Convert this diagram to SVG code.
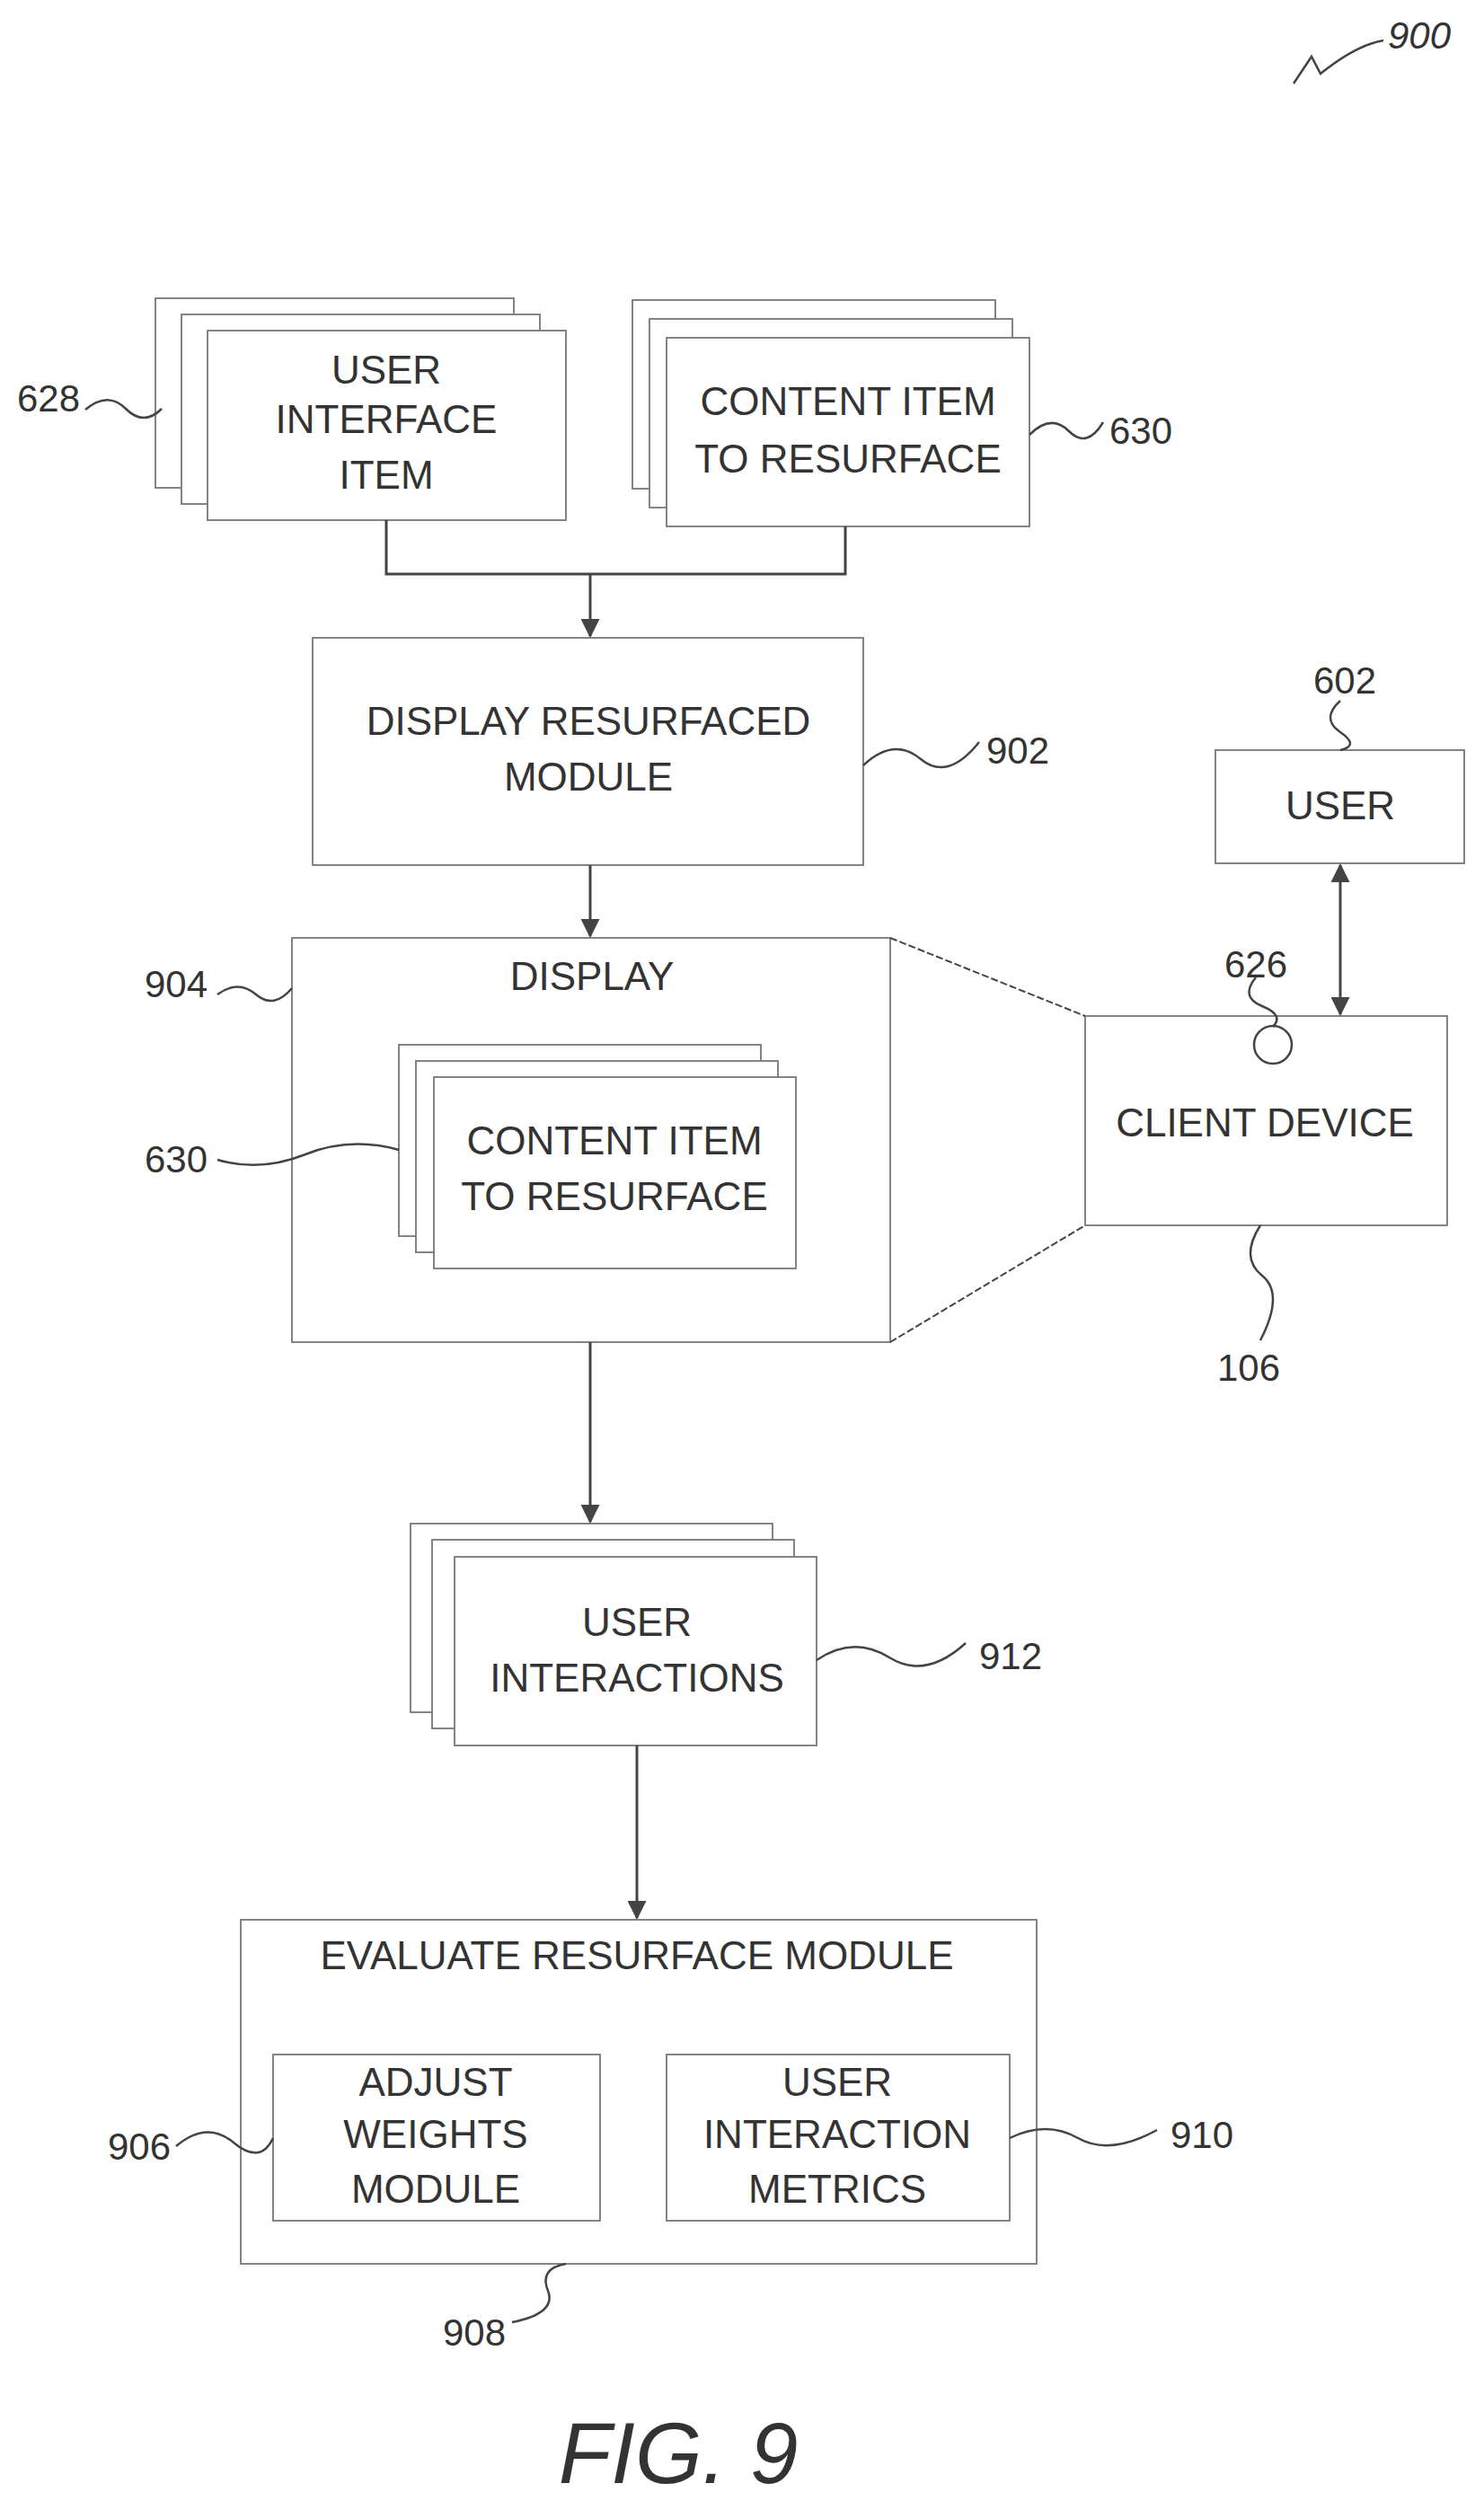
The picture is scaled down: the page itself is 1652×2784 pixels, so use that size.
<svg xmlns="http://www.w3.org/2000/svg" width="1652" height="2784" viewBox="0 0 1652 2784">
<defs>
<style>
.b{fill:#fff;stroke:#777;stroke-width:1.8}
.c{fill:none;stroke:#444;stroke-width:3}
.s{fill:none;stroke:#444;stroke-width:2.5}
.t{font-family:"Liberation Sans",Arial,sans-serif;font-size:44px;fill:#333;text-anchor:middle}
.l{font-family:"Liberation Sans",Arial,sans-serif;font-size:42px;fill:#333;text-anchor:middle}
.f{font-family:"Liberation Sans",Arial,sans-serif;font-size:96px;font-style:italic;fill:#333;text-anchor:middle}
</style>
<marker id="a" viewBox="0 0 10 10" refX="9" refY="5" markerWidth="7" markerHeight="7" orient="auto-start-reverse"><path d="M0,0 L10,5 L0,10 z" fill="#444"/></marker>
</defs>
<rect width="1652" height="2784" fill="#fff"/>
<g id="n628">
<rect class="b" x="173" y="332" width="399" height="211"/>
<rect class="b" x="202" y="350" width="399" height="211"/>
<rect class="b" x="231" y="368" width="399" height="211"/>
<text class="t" x="430" y="427">USER</text><text class="t" x="430" y="482">INTERFACE</text><text class="t" x="430" y="544">ITEM</text>
</g>
<g id="n630a">
<rect class="b" x="704" y="334" width="404" height="210"/>
<rect class="b" x="723" y="355" width="404" height="210"/>
<rect class="b" x="742" y="376" width="404" height="210"/>
<text class="t" x="944" y="462">CONTENT ITEM</text><text class="t" x="944" y="526">TO RESURFACE</text>
</g>
<g id="n902">
<rect class="b" x="348" y="710" width="613" height="253"/>
<text class="t" x="655" y="818">DISPLAY RESURFACED</text><text class="t" x="655" y="880">MODULE</text>
</g>
<g id="n904">
<rect class="b" x="325" y="1044" width="666" height="450"/>
<text class="t" x="659" y="1102">DISPLAY</text>
<rect class="b" x="444" y="1163" width="403" height="213"/>
<rect class="b" x="463" y="1181" width="403" height="213"/>
<rect class="b" x="483" y="1199" width="403" height="213"/>
<text class="t" x="684" y="1285">CONTENT ITEM</text><text class="t" x="684" y="1347">TO RESURFACE</text>
</g>
<g id="n106">
<rect class="b" x="1208" y="1131" width="403" height="233"/>
<text class="t" x="1408" y="1265">CLIENT DEVICE</text>
<circle cx="1417" cy="1163" r="21" fill="#fff" stroke="#444" stroke-width="2.5"/>
</g>
<g id="n602">
<rect class="b" x="1353" y="835" width="277" height="126"/>
<text class="t" x="1492" y="912">USER</text>
</g>
<g id="n912">
<rect class="b" x="457" y="1696" width="403" height="210"/>
<rect class="b" x="481" y="1714" width="403" height="210"/>
<rect class="b" x="506" y="1733" width="403" height="210"/>
<text class="t" x="709" y="1821">USER</text><text class="t" x="709" y="1883">INTERACTIONS</text>
</g>
<g id="n908">
<rect class="b" x="268" y="2137" width="886" height="383"/>
<text class="t" x="709" y="2192">EVALUATE RESURFACE MODULE</text>
</g>
<g id="n906">
<rect class="b" x="304" y="2287" width="364" height="185"/>
<text class="t" x="485" y="2333">ADJUST</text><text class="t" x="485" y="2391">WEIGHTS</text><text class="t" x="485" y="2452">MODULE</text>
</g>
<g id="n910">
<rect class="b" x="742" y="2287" width="382" height="185"/>
<text class="t" x="932" y="2333">USER</text><text class="t" x="932" y="2391">INTERACTION</text><text class="t" x="932" y="2452">METRICS</text>
</g>
<g id="connectors">
<path class="c" d="M430,579 V639 H941 V586"/>
<path class="c" d="M657,639 V708" marker-end="url(#a)"/>
<path class="c" d="M657,963 V1042" marker-end="url(#a)"/>
<path class="c" d="M657,1494 V1694" marker-end="url(#a)"/>
<path class="c" d="M709,1943 V2135" marker-end="url(#a)"/>
<path class="c" d="M1492,963 V1129" marker-start="url(#a)" marker-end="url(#a)"/>
<path d="M991,1044 L1208,1131 M991,1494 L1208,1364" stroke="#444" stroke-width="2" stroke-dasharray="8,3" fill="none"/>
<path class="s" d="M1440,93 L1460,63 L1470,82 Q1510,50 1540,45" />
<path class="s" d="M95,456 Q120,435 140,455 T180,455"/>
<path class="s" d="M1146,484 Q1170,460 1190,480 T1228,470"/>
<path class="s" d="M961,852 Q995,820 1025,845 T1090,826"/>
<path class="s" d="M1492,780 Q1470,800 1492,815 T1492,835"/>
<path class="s" d="M1398,1088 Q1380,1110 1405,1120 T1417,1143"/>
<path class="s" d="M242,1107 Q265,1090 285,1107 T325,1100"/>
<path class="s" d="M242,1291 Q290,1305 340,1285 T444,1280"/>
<path class="s" d="M1403,1364 Q1380,1400 1405,1420 T1403,1492"/>
<path class="s" d="M909,1848 Q950,1820 990,1845 T1075,1829"/>
<path class="s" d="M196,2389 Q230,2360 260,2385 T304,2380"/>
<path class="s" d="M1124,2380 Q1165,2360 1200,2380 T1288,2371"/>
<path class="s" d="M630,2520 Q600,2525 610,2550 T570,2585"/>
</g>
<g id="labels">
<text class="l" x="1580" y="54" font-style="italic">900</text>
<text class="l" x="54" y="458">628</text>
<text class="l" x="1270" y="494">630</text>
<text class="l" x="1133" y="850">902</text>
<text class="l" x="1497" y="772">602</text>
<text class="l" x="1398" y="1088">626</text>
<text class="l" x="196" y="1110">904</text>
<text class="l" x="196" y="1305">630</text>
<text class="l" x="1390" y="1537">106</text>
<text class="l" x="1125" y="1858">912</text>
<text class="l" x="155" y="2404">906</text>
<text class="l" x="1338" y="2391">910</text>
<text class="l" x="528" y="2611">908</text>
<text class="f" x="755" y="2764">FIG. 9</text>
</g>
</svg>
